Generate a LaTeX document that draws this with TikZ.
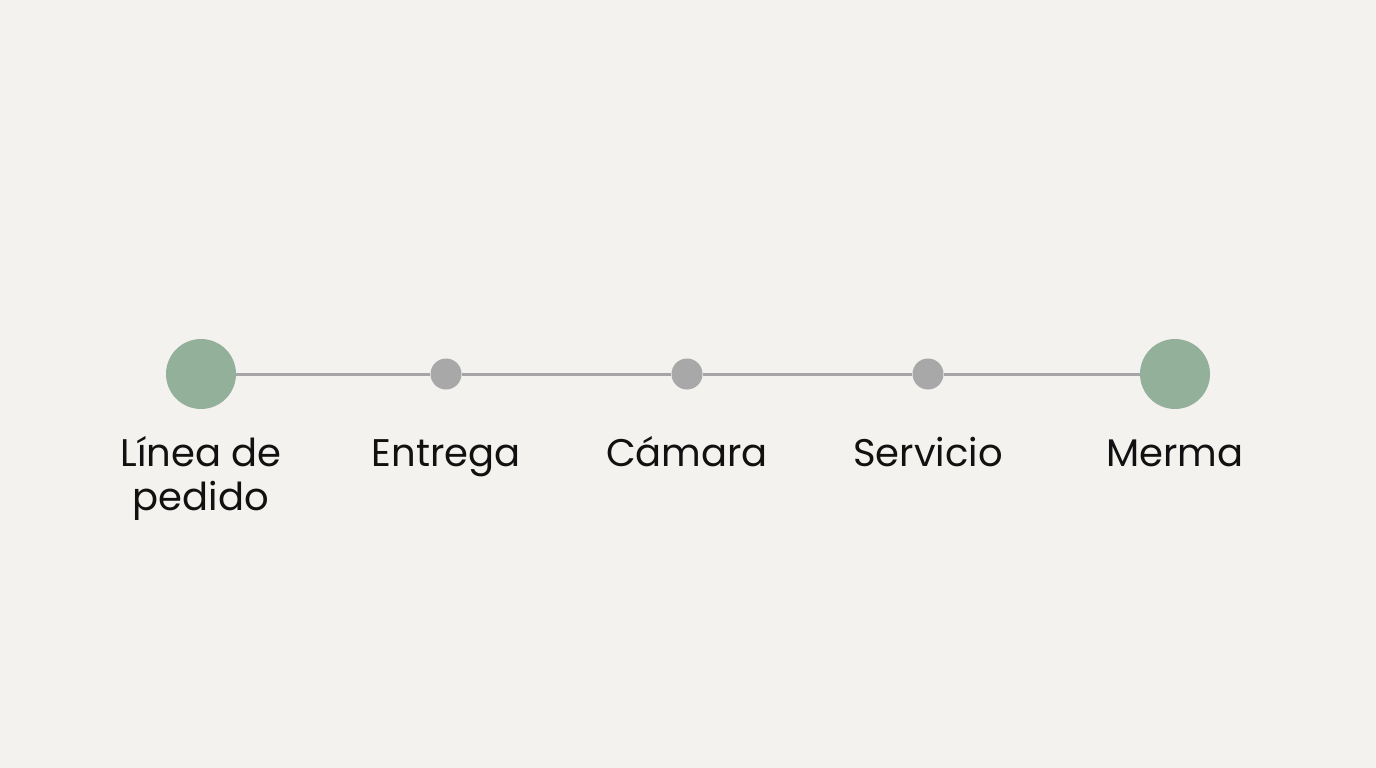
\documentclass[tikz,border=0pt]{standalone}
\usepackage{fontspec}
\setmainfont{Poppins}
\definecolor{bg}{HTML}{F3F2EE}
\definecolor{sage}{HTML}{93B09A}
\definecolor{dotgray}{HTML}{A8A8A8}
\definecolor{linegray}{HTML}{A6A6A6}
\definecolor{ink}{HTML}{111111}
\begin{document}
\begin{tikzpicture}[x=1pt,y=-1pt,
  bigdot/.style={circle,fill=sage,minimum size=70pt,inner sep=0pt},
  smalldot/.style={circle,fill=dotgray,minimum size=31pt,inner sep=0pt},
  conn/.style={draw=linegray,line width=3pt},
  lbl/.style={font=\fontsize{38.5}{44}\selectfont,text=ink,align=center,anchor=base,inner sep=0pt}]
\fill[bg] (0,0) rectangle (1376,768);
\useasboundingbox (0,0) rectangle (1376,768);
\node[bigdot] (n1) at (201,374) {};
\node[smalldot] (n2) at (446,374) {};
\node[smalldot] (n3) at (687,374) {};
\node[smalldot] (n4) at (928,374) {};
\node[bigdot] (n5) at (1175,374) {};
\draw[conn] (n1) -- (n2);
\draw[conn] (n2) -- (n3);
\draw[conn] (n3) -- (n4);
\draw[conn] (n4) -- (n5);
\node[lbl] (t1) at (201,510) {Línea de\\pedido};
\node[lbl] (t2) at (446,466) {Entrega};
\node[lbl] (t3) at (687,466) {Cámara};
\node[lbl] (t4) at (928,466) {Servicio};
\node[lbl] (t5) at (1175,466) {Merma};
\end{tikzpicture}
\end{document}
